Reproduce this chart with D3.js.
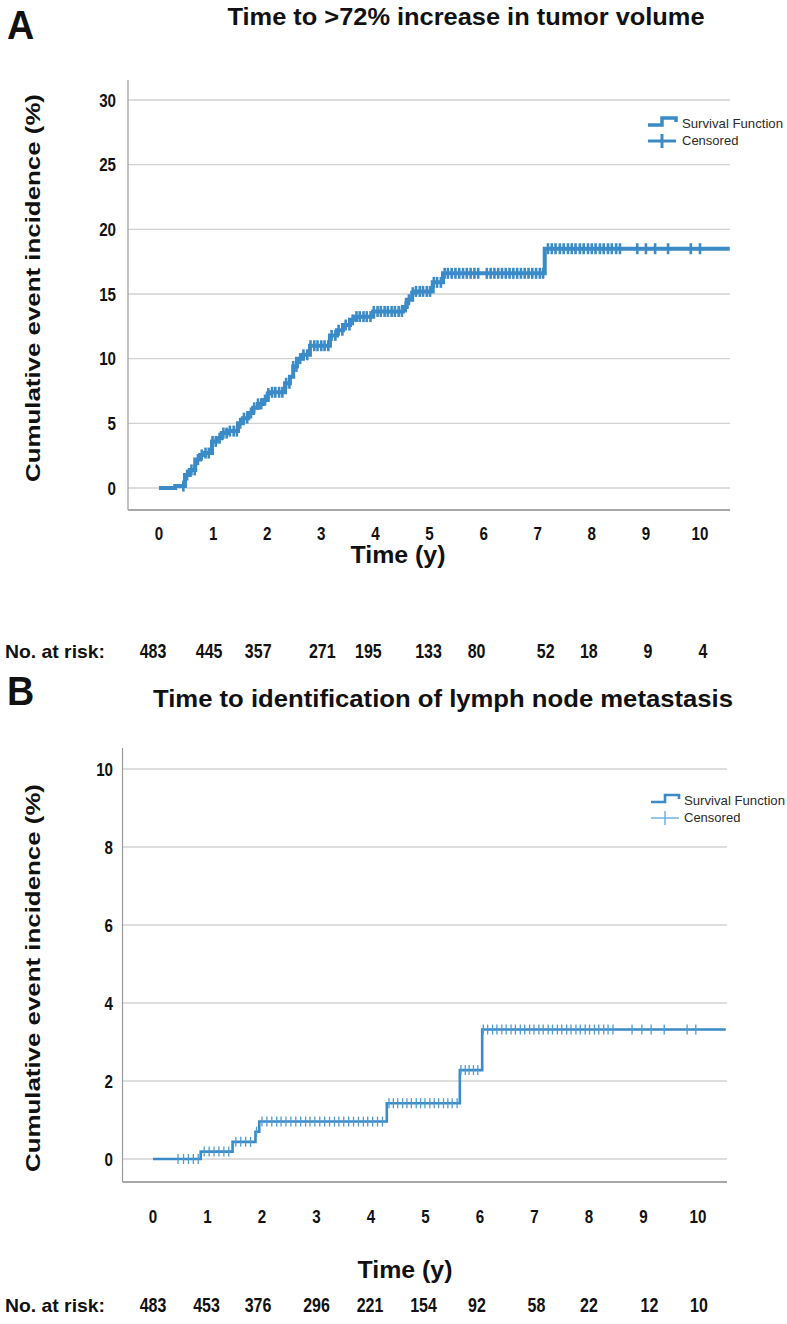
<!DOCTYPE html>
<html>
<head>
<meta charset="utf-8">
<script src="https://cdn.jsdelivr.net/npm/d3@7"></script>
<style>
  html, body { margin: 0; padding: 0; background: #fff; }
  svg { display: block; }
  .narrow { font-family: "Liberation Sans", Arial, sans-serif; font-weight: bold; }
  .bold { font-family: "Liberation Sans", Arial, sans-serif; font-weight: bold; }
  .leg { font-family: "Liberation Sans", Arial, sans-serif; font-size: 13px; fill: #2a2a2a; }
</style>
</head>
<body>
<script>
// ---------------- DATA ----------------
const years = [0, 1, 2, 3, 4, 5, 6, 7, 8, 9, 10];
const yTicksA = [0, 5, 10, 15, 20, 25, 30];
const yTicksB = [0, 2, 4, 6, 8, 10];

const titleA = "Time to >72% increase in tumor volume";
const titleB = "Time to identification of lymph node metastasis";

// Panel A: event times (y) and cumulative incidence (%) after each event
const eventTimesA = [0.30,0.48,0.57,0.67,0.76,0.85,0.98,1.07,1.16,1.26,1.46,1.55,1.65,1.74,1.83,1.92,2.01,2.07,2.33,2.42,2.48,2.55,2.66,2.79,3.16,3.29,3.40,3.53,3.64,3.96,4.51,4.58,4.68,4.75,5.06,5.25,7.13];
const eventValsA  = [0.15,1.0,1.4,2.2,2.55,2.7,3.6,3.85,4.25,4.4,5.0,5.4,5.8,6.2,6.5,6.8,7.3,7.4,8.1,8.6,9.4,10.0,10.3,11.0,11.8,12.2,12.6,13.0,13.25,13.65,14.0,14.55,15.1,15.2,15.9,16.6,18.5];
const censoredA = [0.45,0.52,0.60,0.66,0.72,0.79,0.86,0.92,0.99,1.05,1.12,1.19,1.25,1.31,1.38,1.44,1.50,1.57,1.63,1.70,1.76,1.83,1.89,1.96,2.02,2.09,2.15,2.22,2.28,2.35,2.41,2.48,2.54,2.61,2.67,2.74,2.80,2.87,2.93,3.00,3.06,3.13,3.19,3.26,3.32,3.39,3.45,3.52,3.58,3.65,3.71,3.78,3.84,3.91,3.97,4.04,4.10,4.17,4.23,4.30,4.36,4.43,4.49,4.56,4.62,4.69,4.75,4.82,4.88,4.95,5.01,5.08,5.14,5.21,5.28,5.34,5.41,5.48,5.55,5.62,5.69,5.76,5.83,5.90,6.06,6.13,6.20,6.27,6.34,6.41,6.48,6.55,6.62,6.69,6.76,6.83,6.90,6.97,7.04,7.10,7.19,7.26,7.33,7.41,7.48,7.56,7.63,7.70,7.78,7.85,7.93,8.00,8.07,8.15,8.22,8.30,8.37,8.45,8.52,8.84,9.00,9.17,9.41,9.83,10.00];
const endTimeA = 10.55;
const atRiskA = [483, 445, 357, 271, 195, 133, 80, 52, 18, 9, 4];

// Panel B
const eventTimesB = [0.875, 1.46, 1.88, 1.95, 4.29, 5.63, 6.04];
const eventValsB  = [0.19, 0.44, 0.70, 0.96, 1.43, 2.28, 3.32];
const censoredB = [0.46,0.56,0.65,0.74,0.83,0.94,1.03,1.12,1.21,1.30,1.39,1.52,1.61,1.70,1.79,1.90,2.00,2.09,2.18,2.27,2.35,2.44,2.53,2.62,2.71,2.80,2.88,2.97,3.06,3.15,3.24,3.33,3.41,3.50,3.59,3.68,3.77,3.86,3.94,4.03,4.12,4.21,4.33,4.41,4.49,4.58,4.66,4.74,4.83,4.91,4.99,5.08,5.16,5.24,5.33,5.41,5.49,5.58,5.65,5.73,5.80,5.88,5.96,6.06,6.14,6.23,6.31,6.40,6.48,6.57,6.65,6.74,6.82,6.91,6.99,7.08,7.16,7.25,7.33,7.42,7.50,7.59,7.67,7.76,7.84,7.93,8.01,8.10,8.18,8.27,8.35,8.44,8.79,8.97,9.14,9.38,9.80,9.96];
const endTimeB = 10.51;
const atRiskB = [483, 453, 376, 296, 221, 154, 92, 58, 22, 12, 10];

// ---------------- LAYOUT ----------------
const W = 787, H = 1324;
const NARROW = 0.82;
const svg = d3.select("body").append("svg").attr("width", W).attr("height", H);

// condensed bold text: Liberation Sans Bold squeezed horizontally
function narrowText(parent, x, y, size, anchor, txt) {
  return parent.append("text").attr("class", "narrow")
    .attr("transform", `translate(${x},${y}) scale(${NARROW},1)`)
    .attr("text-anchor", anchor).attr("font-size", size).attr("fill", "#111")
    .text(txt);
}
// bold text fitted to a measured width
function fitText(parent, x, y, size, anchor, len, txt) {
  return parent.append("text").attr("class", "narrow")
    .attr("x", x).attr("y", y)
    .attr("text-anchor", anchor).attr("font-size", size).attr("fill", "#111")
    .attr("textLength", len).attr("lengthAdjust", "spacingAndGlyphs")
    .text(txt);
}

const panels = [
  {
    letter: "A", letterY: 39, title: titleA, titleX: 466, titleY: 25, titleLen: 477,
    xRange: [159, 700], yDomain: [0, 30], yRange: [488, 100], yTicks: yTicksA,
    axisX: 128, axisTop: 80, axisBottom: 510, plotRight: 730,
    xTickY: 540, yTickX: 116, ylabelCY: 288,
    timeX: 398, timeY: 563, riskY: 658, riskNudge: [-6,-4,-9,1,-7,-1,-7,8,-3,2,3],
    events: eventTimesA, vals: eventValsA, cens: censoredA, end: endTimeA, risk: atRiskA,
    lineW: 4, censW: 2.6, censH: 5.5, color: "#3a8bc8", censColor: "#3a8bc8",
    leg: { x: 648, y: 124, tx: 682, legW: 3.5, censLegW: 3, censColor: "#3a8bc8" }
  },
  {
    letter: "B", letterY: 705, title: titleB, titleX: 443, titleY: 707, titleLen: 580,
    xRange: [153, 698], yDomain: [0, 10], yRange: [1159, 769], yTicks: yTicksB,
    axisX: 122.5, axisTop: 748, axisBottom: 1182, plotRight: 727,
    xTickY: 1223, yTickX: 113, ylabelCY: 978,
    timeX: 405, timeY: 1278, riskY: 1312, riskNudge: [0,-1,-4,0,-1,-2,-3,2,0,6,1],
    events: eventTimesB, vals: eventValsB, cens: censoredB, end: endTimeB, risk: atRiskB,
    lineW: 2.6, censW: 1.3, censH: 5, color: "#3a8bc8", censColor: "#4f9bd3",
    leg: { x: 651, y: 801, tx: 684, legW: 2.6, censLegW: 1.4, censColor: "#6aaedd" }
  }
];

panels.forEach(p => {
  const g = svg.append("g");
  const x = d3.scaleLinear().domain([0, 10]).range(p.xRange);
  const y = d3.scaleLinear().domain(p.yDomain).range(p.yRange);

  // gridlines
  g.selectAll(".grid").data(p.yTicks).join("line")
    .attr("x1", p.axisX).attr("x2", p.plotRight)
    .attr("y1", d => y(d)).attr("y2", d => y(d))
    .attr("stroke", "#d2d2d2").attr("stroke-width", 1.3);

  // axes lines
  g.append("line").attr("x1", p.axisX).attr("x2", p.axisX)
    .attr("y1", p.axisTop).attr("y2", p.axisBottom)
    .attr("stroke", "#9a9a9a").attr("stroke-width", 1.2);
  g.append("line").attr("x1", p.axisX).attr("x2", p.plotRight)
    .attr("y1", p.axisBottom).attr("y2", p.axisBottom)
    .attr("stroke", "#a8a8a8").attr("stroke-width", 2);

  // y tick labels
  p.yTicks.forEach(d => narrowText(g, p.yTickX, y(d) + 6.5, 18.5, "end", d));

  // x tick labels
  years.forEach(d => narrowText(g, x(d), p.xTickY, 18.5, "middle", d));

  // step curve
  const pts = [[0, 0]];
  p.events.forEach((t, i) => pts.push([t, p.vals[i]]));
  pts.push([p.end, p.vals[p.vals.length - 1]]);
  const line = d3.line().x(d => x(d[0])).y(d => y(d[1])).curve(d3.curveStepAfter);
  g.append("path").attr("d", line(pts)).attr("fill", "none")
    .attr("stroke", p.color).attr("stroke-width", p.lineW).attr("stroke-linejoin", "miter");

  // censored marks
  const valAt = t => {
    let v = 0;
    p.events.forEach((et, i) => { if (et <= t) v = p.vals[i]; });
    return v;
  };
  g.selectAll(".cens").data(p.cens).join("line")
    .attr("x1", d => x(d)).attr("x2", d => x(d))
    .attr("y1", d => y(valAt(d)) - p.censH).attr("y2", d => y(valAt(d)) + p.censH)
    .attr("stroke", p.censColor).attr("stroke-width", p.censW);

  // letter
  svg.append("text").attr("class", "bold")
    .attr("transform", `translate(7,${p.letterY}) scale(0.92,1)`)
    .attr("font-size", 41).attr("fill", "#111").text(p.letter);

  // title
  fitText(svg, p.titleX, p.titleY, 24, "middle", p.titleLen, p.title);

  // y label
  svg.append("text").attr("class", "bold")
    .attr("transform", `translate(40,${p.ylabelCY}) rotate(-90)`)
    .attr("text-anchor", "middle").attr("font-size", 21).attr("fill", "#111")
    .attr("textLength", 388).attr("lengthAdjust", "spacingAndGlyphs")
    .text("Cumulative event incidence (%)");

  // x label
  fitText(svg, p.timeX, p.timeY, 23, "middle", 95, "Time (y)");

  // at risk
  fitText(svg, 5, p.riskY, 19, "start", 100, "No. at risk:");
  p.risk.forEach((d, i) => narrowText(svg, x(years[i]) + p.riskNudge[i], p.riskY, 19.5, "middle", d));

  // legend
  const L = p.leg;
  svg.append("path")
    .attr("d", `M${L.x},${L.y + 1} H${L.x + 14} V${L.y - 6} H${L.x + 28} V${L.y - 2}`)
    .attr("fill", "none").attr("stroke", p.color).attr("stroke-width", L.legW);
  svg.append("line").attr("x1", L.x).attr("x2", L.x + 28)
    .attr("y1", L.y + 17).attr("y2", L.y + 17)
    .attr("stroke", L.censColor).attr("stroke-width", L.censLegW);
  svg.append("line").attr("x1", L.x + 14).attr("x2", L.x + 14)
    .attr("y1", L.y + 10).attr("y2", L.y + 24)
    .attr("stroke", L.censColor).attr("stroke-width", L.censLegW);
  svg.append("text").attr("class", "leg").attr("x", L.tx).attr("y", L.y + 4)
    .attr("textLength", 101).attr("lengthAdjust", "spacingAndGlyphs")
    .text("Survival Function");
  svg.append("text").attr("class", "leg").attr("x", L.tx).attr("y", L.y + 21)
    .text("Censored");
});
</script>
</body>
</html>
